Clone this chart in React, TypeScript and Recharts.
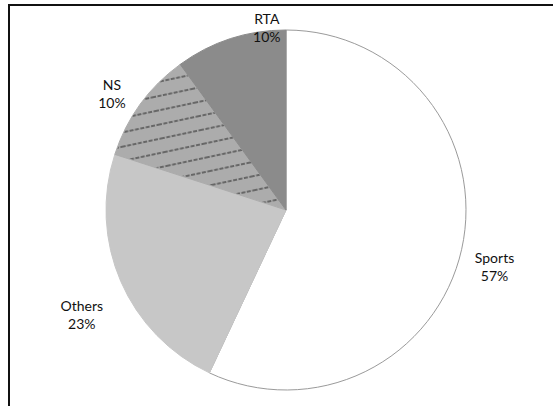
import { PieChart, Pie, Cell } from "recharts";

const categories = ["Sports", "Others", "NS", "RTA"];
const shares = [57, 23, 10, 10];

const fills = ["#ffffff", "#c7c7c7", "url(#nsHatch)", "#8b8b8b"];
const strokes = ["#9a9a9a", "#c7c7c7", "#acacac", "#8b8b8b"];
// label placement tweaks (angle offset in degrees, radius)
const labelNudge = [
  { da: -2.5, r: 216 },
  { da: 3.5, r: 229 },
  { da: 2, r: 210 },
  { da: -12, r: 184 },
];

const data = categories.map((name, i) => ({ name, value: shares[i] }));

const RAD = Math.PI / 180;

function renderLabel(props: any) {
  const { cx, cy, midAngle, index, payload } = props;
  const n = labelNudge[index];
  const a = (midAngle + n.da) * RAD;
  const x = cx + n.r * Math.cos(a);
  const y = cy - n.r * Math.sin(a);
  return (
    <text
      x={x}
      y={y}
      textAnchor="middle"
      fill="#111"
      fontSize={14}
      fontFamily="Lato, 'DejaVu Sans', sans-serif"
    >
      <tspan x={x} dy={-3}>
        {payload.name}
      </tspan>
      <tspan x={x} dy={18}>
        {payload.value}%
      </tspan>
    </text>
  );
}

export default function App() {
  return (
    <div
      style={{
        position: "absolute",
        left: 8,
        top: 4,
        width: 560,
        height: 410,
        borderTop: "2px solid #111",
        borderLeft: "2px solid #111",
        overflow: "hidden",
      }}
    >
      <svg width={0} height={0} style={{ position: "absolute" }}>
        <defs>
          <pattern
            id="nsHatch"
            patternUnits="userSpaceOnUse"
            width={40}
            height={14}
            patternTransform="rotate(-12)"
          >
            <rect width={40} height={14} fill="#acacac" />
            <line
              x1={0}
              y1={7}
              x2={40}
              y2={7}
              stroke="#222"
              strokeWidth={1.2}
              strokeDasharray="4 1.5"
            />
          </pattern>
        </defs>
      </svg>
      <div style={{ position: "absolute", left: 0, top: 0 }}>
        <PieChart
          width={545}
          height={400}
          margin={{ top: 0, right: 0, bottom: 0, left: 0 }}
        >
          <Pie
            data={data}
            dataKey="value"
            nameKey="name"
            cx={276}
            cy={204}
            outerRadius={180}
            startAngle={90}
            endAngle={-270}
            label={renderLabel}
            labelLine={false}
            isAnimationActive={false}
          >
            {data.map((d, i) => (
              <Cell key={d.name} fill={fills[i]} stroke={strokes[i]} strokeWidth={1} />
            ))}
          </Pie>
        </PieChart>
      </div>
    </div>
  );
}
